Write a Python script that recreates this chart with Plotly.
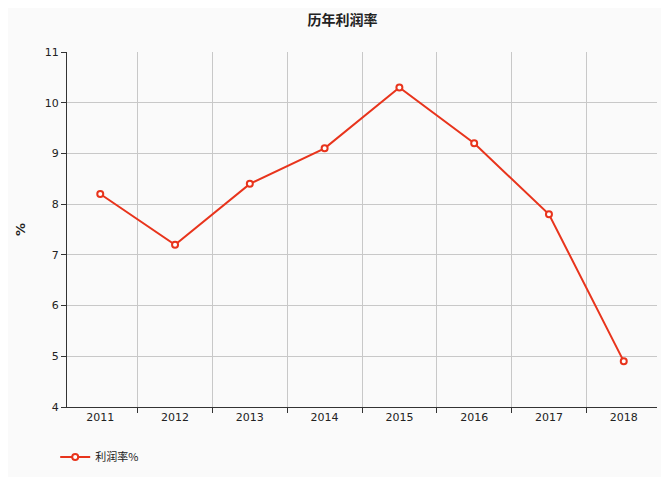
import plotly.graph_objects as go

years = ["2011", "2012", "2013", "2014", "2015", "2016", "2017", "2018"]
profit_rate = [8.2, 7.2, 8.4, 9.1, 10.3, 9.2, 7.8, 4.9]

fig = go.Figure(go.Scatter(
    x=years, y=profit_rate, mode="lines+markers", name="利润率%",
    line=dict(color="#e8341c", width=2),
    marker=dict(symbol="circle", size=6, color="white", line=dict(color="#e8341c", width=2)),
))
fig.update_layout(
    width=669, height=477,
    paper_bgcolor="#fafafa", plot_bgcolor="#fafafa",
    font=dict(family="DejaVu Sans", size=11, color="#222"),
    title=dict(text="<b>历年利润率</b>", x=0.5, y=0.985, xanchor="center", yanchor="top",
               font=dict(size=14, family="Noto Sans CJK SC")),
    margin=dict(l=44, r=20, t=44, b=78),
    showlegend=True,
    legend=dict(orientation="h", x=-0.02, y=-0.1, xanchor="left", yanchor="top",
                font=dict(family="Noto Sans CJK SC", size=11)),
    xaxis=dict(type="category", tickson="boundaries", showgrid=True, gridcolor="#c8c8c8",
               showline=True, linecolor="#333", ticks="outside", ticklen=5, tickcolor="#333"),
    yaxis=dict(range=[4, 11], dtick=1, showgrid=True, gridcolor="#c8c8c8",
               showline=True, linecolor="#333", ticks="outside", ticklen=5, tickcolor="#333",
               title=dict(text="<b>%</b>", standoff=16), zeroline=False),
)
fig.write_html("out.html")
